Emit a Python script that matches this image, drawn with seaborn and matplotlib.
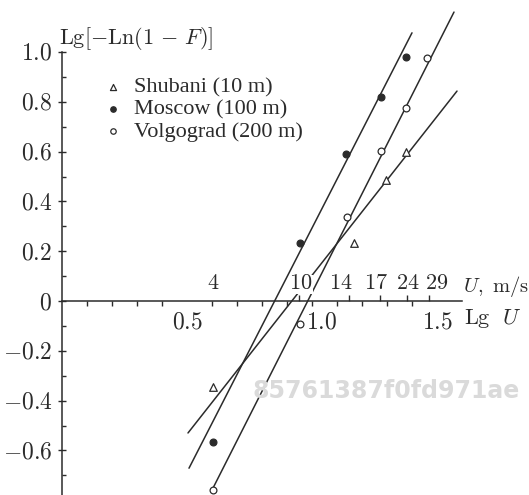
import numpy as np
import pandas as pd
import matplotlib
matplotlib.use('Agg')
import matplotlib.pyplot as plt
import seaborn as sns

# --- datos ---
SERIES = ['Shubani (10 m)', 'Moscow (100 m)', 'Volgograd (200 m)']

shubani_x = [0.604, 1.168, 1.296, 1.376]
shubani_y = [-0.345, 0.233, 0.486, 0.598]

moscow_x = [0.604, 0.952, 1.136, 1.276, 1.376]
moscow_y = [-0.566, 0.233, 0.590, 0.820, 0.980]

volgograd_x = [0.604, 0.952, 1.140, 1.276, 1.376, 1.460]
volgograd_y = [-0.760, -0.092, 0.337, 0.602, 0.775, 0.976]

# rectas de ajuste (pendiente, ordenada, tramo dibujado)
fit_slope = [1.276, 1.960, 1.983]
fit_intercept = [-1.173, -1.667, -1.949]
fit_x_from = [0.504, 0.508, 0.605]
fit_x_to = [1.580, 1.400, 1.568]

# escala superior en U, m/s (marcas y rotulos no siempre alineados en el original)
u_labels = ['4', '10', '14', '17', '24', '29']
u_tick_pos = [0.604, 0.948, 1.148, 1.274, 1.380, 1.468]
u_label_pos = [0.604, 0.956, 1.116, 1.256, 1.384, 1.500]

y_major = [-0.6, -0.4, -0.2, 0.0, 0.2, 0.4, 0.6, 0.8, 1.0]
y_labels = ['$-0.6$', '$-0.4$', '$-0.2$', '$0$', '$0.2$', '$0.4$', '$0.6$', '$0.8$', '$1.0$']
y_minor = [-0.7, -0.5, -0.3, -0.1, 0.1, 0.3, 0.5, 0.7, 0.9]
x_ticks = [0.1, 0.2, 0.3, 0.4, 0.5, 0.6, 0.7, 0.8, 0.9, 1.0, 1.1, 1.2, 1.3, 1.4, 1.5]
x_labels = ['$0.5$', '$1.0$', '$1.5$']
x_label_pos = [0.5, 1.04, 1.5]

WATERMARK = '85761387f0fd971ae'

sns.set_style('ticks')
plt.rcParams['font.family'] = ['Liberation Serif', 'DejaVu Serif']
plt.rcParams['mathtext.fontset'] = 'cm'
plt.rcParams['axes.unicode_minus'] = True

INK = '#2b2b2b'
FS = 17

fig = plt.figure(figsize=(5.29, 4.95), dpi=100)
ax = fig.add_axes([0, 0, 1, 1])
ax.patch.set_visible(False)
ax.set_xlim(-0.248, 1.868)
ax.set_ylim(-0.779, 1.2088)

# puntos
pts = pd.DataFrame({
    'x': shubani_x + moscow_x + volgograd_x,
    'y': shubani_y + moscow_y + volgograd_y,
    'serie': [SERIES[0]] * len(shubani_x) + [SERIES[1]] * len(moscow_x)
             + [SERIES[2]] * len(volgograd_x),
})
estilos = {
    SERIES[0]: dict(marker='^', facecolor='white', s=30),
    SERIES[1]: dict(marker='o', facecolor=INK, s=24),
    SERIES[2]: dict(marker='o', facecolor='white', s=24),
}

# rectas
for i, name in enumerate(SERIES):
    xs = np.array([fit_x_from[i], fit_x_to[i]])
    ys = fit_slope[i] * xs + fit_intercept[i]
    sns.lineplot(x=xs, y=ys, color=INK, linewidth=1.1, ax=ax, legend=False)

for name in SERIES:
    sub = pts[pts['serie'] == name]
    st = estilos[name]
    sns.scatterplot(data=sub, x='x', y='y', marker=st['marker'], s=st['s'],
                    facecolor=st['facecolor'], edgecolor=INK, linewidth=0.9,
                    label=name, ax=ax, zorder=3)

ax.set_xlabel('')
ax.set_ylabel('')

# ejes en el origen
for side in ['top', 'right']:
    ax.spines[side].set_visible(False)
ax.spines['left'].set_position(('data', 0))
ax.spines['bottom'].set_position(('data', 0))
ax.spines['left'].set_bounds(-0.779, 1.0)
ax.spines['bottom'].set_bounds(0, 1.6)
for side in ['left', 'bottom']:
    ax.spines[side].set_color(INK)
    ax.spines[side].set_linewidth(1.1)

ax.set_yticks(y_major, labels=y_labels)
ax.set_yticks(y_minor, minor=True)
# eje x: marcas cada 0.1 como menores, rotulos como mayores sin marca
ax.set_xticks(x_label_pos, labels=x_labels)
ax.set_xticks(x_ticks, minor=True)
ax.tick_params(axis='y', which='major', direction='inout', length=6, width=1,
               pad=4, labelsize=FS, colors=INK)
ax.tick_params(axis='y', which='minor', direction='in', length=3, width=1, colors=INK)
ax.tick_params(axis='x', which='minor', direction='out', length=3.5, width=1, colors=INK)
ax.tick_params(axis='x', which='major', length=0, pad=8, labelsize=FS, colors=INK)

# escala superior (U)
tw = ax.twiny()
tw.set_xlim(ax.get_xlim())
tw.set_ylim(ax.get_ylim())
for side in tw.spines:
    tw.spines[side].set_visible(False)
tw.spines['top'].set_position(('data', 0))
tw.set_xticks(u_label_pos, labels=['$%s$' % u for u in u_labels])
tw.set_xticks(u_tick_pos, minor=True)
tw.tick_params(axis='x', which='minor', direction='out', length=4, width=1, colors=INK)
tw.tick_params(axis='x', which='major', length=0, pad=5, labelsize=16, colors=INK)
for lab in tw.get_xticklabels():
    lab.set_bbox(dict(facecolor='white', edgecolor='none', pad=0))

# textos de ejes
ax.text(1.604, 0.06, r'$U,\mathrm{\ m/s}$', fontsize=14.8, color=INK,
        ha='left', va='center')
ax.text(1.608, -0.07, r'$\mathrm{Lg}\enspace\,U$', fontsize=16, color=INK,
        ha='left', va='center')
ax.text(-0.012, 1.056, r'$\mathrm{Lg}[-\mathrm{Ln}(1\,-\,F)]$', fontsize=16,
        color=INK, ha='left', va='center')

handles, labels = ax.get_legend_handles_labels()
ax.legend(handles, labels, loc='upper left', frameon=False,
          bbox_to_anchor=(102 / 529, 1 - 77 / 495), bbox_transform=fig.transFigure,
          borderpad=0, borderaxespad=0, handlelength=1.0, handletextpad=0.45,
          labelspacing=0.07, markerscale=0.8, fontsize=16, labelcolor=INK)

fig.text(252 / 529, 1 - 391 / 495, WATERMARK, fontsize=17, fontweight='bold',
         family='DejaVu Sans', color='#dadada', ha='left', va='center')

fig.savefig('out.png', dpi=100)
